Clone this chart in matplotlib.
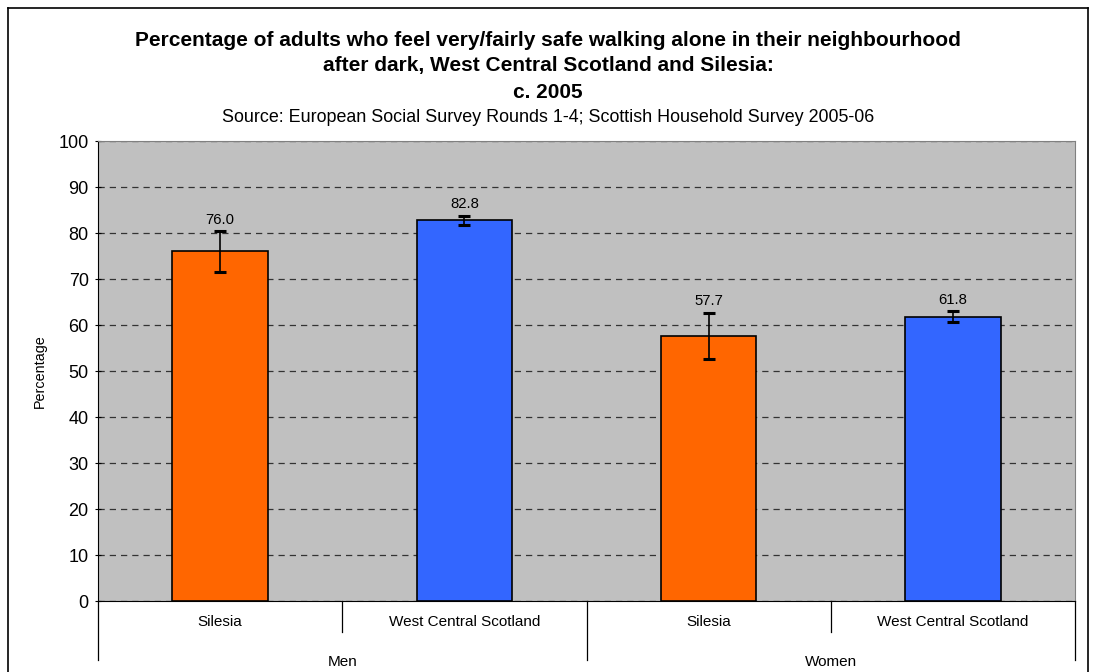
import matplotlib
matplotlib.use('Agg')
import matplotlib.pyplot as plt
import matplotlib.transforms as mtransforms
from matplotlib.lines import Line2D

plt.rcParams['font.family'] = ['Liberation Sans', 'DejaVu Sans']

# data
groups = ['Men', 'Women']
regions = ['Silesia', 'West Central Scotland']
values = [76.0, 82.8, 57.7, 61.8]
errors = [4.4, 1.0, 5.0, 1.2]
bar_colors = ['#FF6600', '#3366FF', '#FF6600', '#3366FF']

W, H = 1096, 672
fig = plt.figure(figsize=(W / 100, H / 100), dpi=100)
ax = fig.add_axes([98 / W, 1 - 601 / H, 977 / W, 460 / H])
ax.set_facecolor('#C0C0C0')

x = list(range(len(values)))
ax.bar(x, values, width=0.39, color=bar_colors, edgecolor='black', linewidth=1.2, zorder=3)
ax.errorbar(x, values, yerr=errors, fmt='none', ecolor='black', elinewidth=1.2,
            capsize=4.5, capthick=2.2, zorder=4)

for xi, v, e in zip(x, values, errors):
    ax.annotate(f'{v:.1f}', (xi, v + e), xytext=(0, 3), textcoords='offset points',
                ha='center', va='bottom', fontsize=10.7)

ax.set_xlim(-0.5, len(values) - 0.5)
ax.set_ylim(0, 100)
ax.set_yticks(range(0, 101, 10))
ax.tick_params(axis='y', labelsize=13, direction='inout', length=4.5, pad=4.5)
ax.set_xticks([])
ax.yaxis.grid(True, linestyle=(0, (5, 4)), color='#333333', linewidth=0.9)
ax.set_axisbelow(True)
for side in ['top', 'right']:
    ax.spines[side].set_color('#808080')
ax.spines['left'].set_color('black')
ax.spines['bottom'].set_color('black')
ax.set_ylabel('Percentage', fontsize=10.4, labelpad=8)

# hierarchical category axis
trans = mtransforms.blended_transform_factory(ax.transData, ax.transAxes)
for i, v in enumerate(values):
    ax.text(i, -21 / 460, regions[i % 2], transform=trans, ha='center', va='center', fontsize=11)
for i in range(len(values) + 1):
    bottom = -59 / 460 if i % 2 == 0 else -31 / 460
    ax.plot([i - 0.5, i - 0.5], [0, bottom], transform=trans, color='black',
            linewidth=0.9, clip_on=False)
for g, name in enumerate(groups):
    ax.text(2 * g + 0.5, -61 / 460, name, transform=trans, ha='center', va='center', fontsize=11)

title_lines = ['Percentage of adults who feel very/fairly safe walking alone in their neighbourhood',
               'after dark, West Central Scotland and Silesia:',
               'c. 2005']
for line, ypix in zip(title_lines, [41, 66, 92]):
    fig.text(0.5, 1 - ypix / H, line, ha='center', va='center', fontsize=15, fontweight='bold')
fig.text(0.5, 1 - 117 / H, 'Source: European Social Survey Rounds 1-4; Scottish Household Survey 2005-06',
         ha='center', va='center', fontsize=12.9)

# outer chart border (bottom edge falls outside the image)
for xs, ys in [([8, 8], [8, H + 5]), ([1088, 1088], [8, H + 5]), ([8, 1088], [8, 8])]:
    fig.add_artist(Line2D([p / W for p in xs], [1 - p / H for p in ys],
                          transform=fig.transFigure, color='black', linewidth=1.2))

fig.savefig('out.png', dpi=100)
